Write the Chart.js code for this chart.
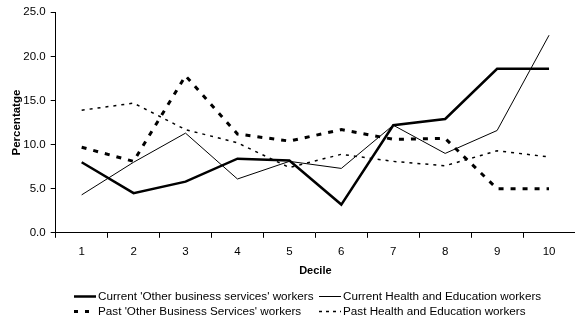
<!DOCTYPE html>
<html>
<head>
<meta charset="utf-8">
<script src="https://cdn.jsdelivr.net/npm/chart.js@4/dist/chart.umd.min.js"></script>
<style>
  html, body { margin: 0; padding: 0; background: #fff; }
  #wrap { width: 575px; height: 320px; position: relative; }
</style>
</head>
<body>
<div id="wrap"><canvas id="c" width="575" height="320"></canvas></div>
<script>
// Income deciles along the x axis
const deciles = ['1', '2', '3', '4', '5', '6', '7', '8', '9', '10'];

// Share of workers (%) in each decile
const currentOtherBusiness = [8.0, 4.5, 5.8, 8.4, 8.2, 3.2, 12.2, 12.9, 18.6, 18.6];
const currentHealthEducation = [4.3, 8.0, 11.3, 6.1, 8.1, 7.3, 12.2, 9.0, 11.6, 22.4];
const pastOtherBusiness = [9.7, 8.1, 17.8, 11.2, 10.4, 11.7, 10.6, 10.7, 5.0, 5.0];
const pastHealthEducation = [13.9, 14.7, 11.7, 10.2, 7.4, 8.9, 8.1, 7.6, 9.3, 8.6];

// Value axis ticks
const yTicks = [0, 5, 10, 15, 20, 25];

const FONT = 'Liberation Sans, Arial, sans-serif';

// Two-column legend below the plot, drawn from the datasets' own line styles
const columnLegend = {
  id: 'columnLegend',
  afterDraw(chart) {
    const ctx = chart.ctx;
    const cols = [74, 319];
    const rows = [296, 311];
    const sampleLen = 22;
    ctx.save();
    ctx.font = '11.7px ' + FONT;
    ctx.fillStyle = '#000';
    ctx.textBaseline = 'middle';
    ctx.textAlign = 'left';
    chart.data.datasets.forEach((ds, i) => {
      const x = cols[i % 2];
      const y = rows[Math.floor(i / 2)];
      ctx.beginPath();
      ctx.strokeStyle = ds.borderColor;
      ctx.lineWidth = ds.borderWidth;
      ctx.setLineDash(ds.legendDash || ds.borderDash || []);
      ctx.lineCap = 'butt';
      ctx.moveTo(x, y + 0.5);
      ctx.lineTo(x + sampleLen, y + 0.5);
      ctx.stroke();
      ctx.setLineDash([]);
      ctx.fillText(ds.label, x + sampleLen + 2, y + 1);
    });
    ctx.restore();
  }
};

const baseLine = {
  borderColor: '#000',
  backgroundColor: '#000',
  pointRadius: 0,
  pointHoverRadius: 0,
  tension: 0,
  fill: false,
  borderJoinStyle: 'miter'
};

new Chart(document.getElementById('c'), {
  type: 'line',
  data: {
    labels: deciles,
    datasets: [
      Object.assign({}, baseLine, {
        label: "Current 'Other business services' workers",
        data: currentOtherBusiness,
        borderWidth: 2.5
      }),
      Object.assign({}, baseLine, {
        label: 'Current Health and Education workers',
        data: currentHealthEducation,
        borderWidth: 1
      }),
      Object.assign({}, baseLine, {
        label: "Past 'Other Business Services' workers",
        data: pastOtherBusiness,
        borderWidth: 3,
        borderDash: [5, 7],
        legendDash: [4, 7]
      }),
      Object.assign({}, baseLine, {
        label: 'Past Health and Education workers',
        data: pastHealthEducation,
        borderWidth: 1.5,
        borderDash: [3, 5],
        legendDash: [3, 4]
      })
    ]
  },
  options: {
    responsive: false,
    animation: false,
    devicePixelRatio: 1,
    layout: { padding: { top: 12.3, right: 0, bottom: 40, left: 0 } },
    plugins: {
      legend: { display: false },
      tooltip: { enabled: false },
      title: { display: false }
    },
    scales: {
      x: {
        type: 'category',
        offset: true,
        grid: {
          offset: true,
          drawOnChartArea: false,
          drawTicks: true,
          tickLength: 5,
          color: '#000',
          lineWidth: 1
        },
        border: { display: true, color: '#000', width: 1 },
        ticks: {
          color: '#000',
          font: { family: FONT, size: 11.5 },
          padding: 7,
          maxRotation: 0,
          autoSkip: false
        },
        title: {
          display: true,
          text: 'Decile',
          color: '#000',
          font: { family: FONT, size: 11, weight: 'bold' },
          padding: { top: 0, bottom: 2.2 }
        },
        afterFit(scale) { scale.height = 47.2; }
      },
      y: {
        min: yTicks[0],
        max: yTicks[yTicks.length - 1],
        afterBuildTicks(scale) { scale.ticks = yTicks.map(v => ({ value: v })); },
        grid: {
          drawOnChartArea: false,
          drawTicks: true,
          tickLength: 5,
          color: '#000',
          lineWidth: 1
        },
        border: { display: true, color: '#000', width: 1 },
        ticks: {
          color: '#000',
          font: { family: FONT, size: 11.5 },
          padding: 5,
          callback: v => Number(v).toFixed(1)
        },
        title: {
          display: true,
          text: 'Percentatge',
          color: '#000',
          font: { family: FONT, size: 11.5, weight: 'bold' },
          padding: { top: 10, bottom: 0 }
        },
        afterFit(scale) { scale.width = 55.7; }
      }
    }
  },
  plugins: [columnLegend]
});
</script>
</body>
</html>
